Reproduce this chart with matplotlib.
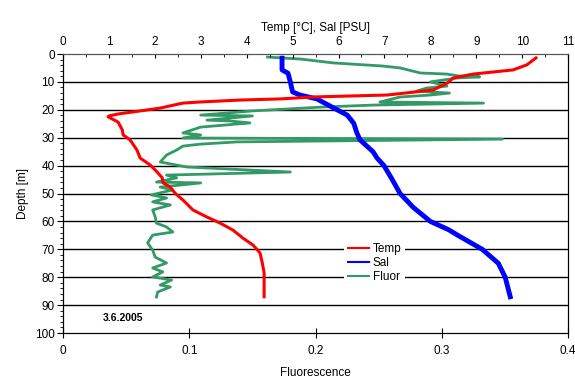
import matplotlib
matplotlib.use("Agg")
import matplotlib.pyplot as plt
from matplotlib.ticker import MultipleLocator

plt.rcParams['font.family'] = ['Liberation Sans', 'DejaVu Sans']

# Temperature profile [degC] vs depth [m]
temp_depth = [1.4, 3.9, 5.7, 7.2, 8.6, 10.4, 12.9, 14.7, 15.4, 16.1, 16.5, 17.2, 17.6,
              19.4, 20.4, 21.5, 22.2, 22.5, 24.4, 27.2, 29.0, 30.8, 34.4, 37.3, 39.8,
              42.3, 44.4, 46.2, 47.6, 49.9, 52.3, 55.9, 58.4, 60.6, 63.1, 66.0, 68.5,
              71.3, 74.9, 78.5, 87.0]
temp = [10.3, 10.1, 9.8, 8.93, 8.5, 8.37, 8.06, 7.06, 5.45, 4.73, 3.86, 2.98, 2.61,
        2.11, 1.68, 1.2, 1.0, 0.98, 1.2, 1.29, 1.31, 1.46, 1.61, 1.68, 1.9,
        2.05, 2.16, 2.18, 2.33, 2.44, 2.61, 2.83, 3.13, 3.42, 3.7, 3.92, 4.14,
        4.29, 4.34, 4.38, 4.38]

# Salinity profile [PSU]
sal_depth = [1.5, 5.7, 6.9, 10.0, 13.6, 14.7, 16.1, 19.4, 21.9, 24.8, 28.3, 30.8, 35.0,
             37.3, 40.0, 45.0, 50.0, 55.0, 60.0, 63.0, 65.0, 70.0, 75.0, 80.0, 87.0]
sal = [4.77, 4.77, 4.9, 4.95, 5.0, 5.16, 5.53, 5.9, 6.19, 6.33, 6.4, 6.47, 6.75,
       6.84, 6.99, 7.17, 7.34, 7.63, 8.0, 8.4, 8.6, 9.13, 9.48, 9.63, 9.74]

# Fluorescence profile
fl_depth = [1.1, 1.8, 3.2, 4.3, 5.0, 6.8, 7.2, 7.9, 8.2, 8.6, 10.0, 11.5, 12.2, 13.3,
            14.0, 14.7, 15.4, 17.2, 17.6, 18.3, 19.0, 20.4, 21.9, 22.2, 23.7, 24.0,
            24.7, 26.2, 28.3, 29.0, 30.1, 30.5, 31.5, 32.3, 33.0, 34.4, 36.2, 38.7,
            40.5, 42.3, 43.4, 44.4, 45.9, 46.2, 47.7, 48.7, 50.5, 51.6, 53.0, 54.1,
            55.9, 58.4, 60.6, 62.0, 63.8, 64.9, 67.7, 70.3, 72.8, 74.9, 76.7, 78.1,
            79.9, 81.0, 82.8, 83.5, 85.3, 87.1]
fluor = [0.162, 0.188, 0.214, 0.253, 0.267, 0.283, 0.304, 0.314, 0.330, 0.312, 0.291,
         0.304, 0.288, 0.280, 0.306, 0.291, 0.267, 0.251, 0.333, 0.246, 0.206, 0.150,
         0.109, 0.150, 0.114, 0.132, 0.148, 0.109, 0.095, 0.109, 0.095, 0.348, 0.138,
         0.109, 0.095, 0.090, 0.082, 0.077, 0.098, 0.180, 0.082, 0.090, 0.074, 0.109,
         0.077, 0.087, 0.070, 0.082, 0.071, 0.085, 0.071, 0.073, 0.074, 0.082, 0.087,
         0.071, 0.067, 0.071, 0.073, 0.082, 0.071, 0.079, 0.071, 0.086, 0.077, 0.085,
         0.075, 0.074]

fig = plt.figure(figsize=(5.75, 3.83), dpi=100)
ax = fig.add_axes([0.1096, 0.1305, 0.8784, 0.7285])
ax.set_xlim(0, 0.4)
ax.set_ylim(100, 0)
for d in range(10, 100, 10):
    ax.axhline(d, color='black', lw=1.0, zorder=0)

fl_line, = ax.plot(fluor, fl_depth, color='#339966', lw=2.0, zorder=3)
ax.set_xlabel('Fluorescence', fontsize=8.5, labelpad=7)
ax.set_ylabel('Depth [m]', fontsize=8.5, labelpad=4)
ax.xaxis.set_major_locator(MultipleLocator(0.1))
ax.yaxis.set_major_locator(MultipleLocator(10))
ax.yaxis.set_minor_locator(MultipleLocator(2))
ax.tick_params(axis='x', direction='inout', length=7, width=0.8, labelsize=8.5, pad=5)
ax.tick_params(axis='y', which='major', direction='out', length=4, width=0.8, labelsize=8.5, pad=2)
ax.tick_params(axis='y', which='minor', direction='out', length=2, width=0.6)
ax.xaxis.set_major_formatter(plt.FuncFormatter(lambda v, p: '0' if v == 0 else f'{v:g}'))
ax.text(0.0316, 94.6, '3.6.2005', fontsize=7.5, fontweight='bold', va='center')

ax2 = ax.twiny()
ax2.set_xlim(0, 11)
t_line, = ax2.plot(temp, temp_depth, color='#FF0000', lw=2.2, zorder=3)
s_line, = ax2.plot(sal, sal_depth, color='#0000FF', lw=3.5, zorder=2)
ax2.set_xlabel('Temp [°C], Sal [PSU]', fontsize=8.5, labelpad=4)
ax2.xaxis.set_major_locator(MultipleLocator(1))
ax2.xaxis.set_minor_locator(MultipleLocator(0.5))
ax2.tick_params(axis='x', which='major', direction='in', length=3, width=0.8, labelsize=8.5, pad=4)
ax2.tick_params(axis='x', which='minor', direction='in', length=2, width=0.6)

for a in (ax, ax2):
    for s in a.spines.values():
        s.set_linewidth(0.8)
    a.spines['top'].set_color('#555555')

leg = ax2.legend([t_line, s_line, fl_line], ['Temp', 'Sal', 'Fluor'],
                 loc='upper left', bbox_to_anchor=(0.545, 0.355), fontsize=8.5,
                 frameon=True, facecolor='white', edgecolor='none', framealpha=1,
                 fancybox=False, handlelength=1.8, handletextpad=0.3,
                 labelspacing=0.15, borderpad=0.3)
for h in leg.get_lines():
    h.set_linewidth(1.5)

fig.savefig('out.png', dpi=100)
